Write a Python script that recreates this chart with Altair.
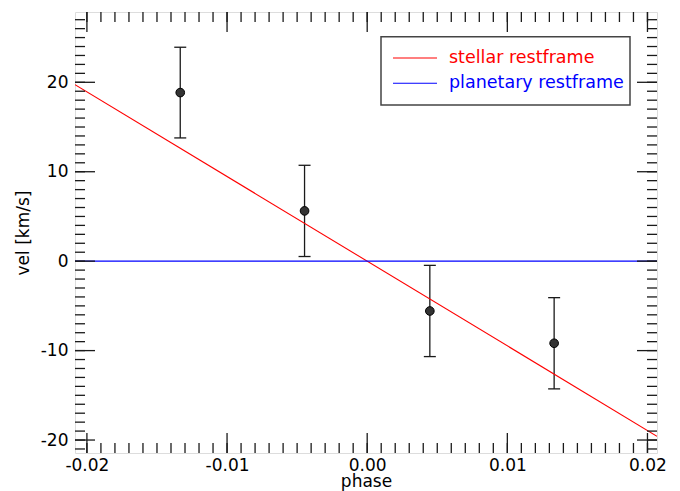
import altair as alt
import pandas as pd

# ---- data ----
phase = [-0.01334, -0.00447, 0.00447, 0.01334]
vel = [18.85, 5.62, -5.57, -9.18]
vel_err = [5.07, 5.10, 5.10, 5.10]

stellar_x = [-0.02085, 0.02068]
stellar_y = [19.74, -19.58]
planet_x = [-0.02085, 0.02068]
planet_y = [0.0, 0.0]

x_domain = [-0.02085, 0.02068]
y_domain = [-21.45, 27.86]
x_major = [-0.02, -0.01, 0.0, 0.01, 0.02]
x_minor = [round(-0.020 + 0.001 * i, 3) for i in range(41)]
y_major = [-20, -10, 0, 10, 20]
y_minor = list(range(-21, 28))
legend_labels = ["stellar restframe", "planetary restframe"]

W, H = 582, 441
FONT = "DejaVu Sans"
FS = 17
INK = "#1a1a1a"

xs = alt.Scale(domain=x_domain, nice=False, zero=False)
ys = alt.Scale(domain=y_domain, nice=False, zero=False)

pts = pd.DataFrame({"phase": phase, "vel": vel, "err": vel_err})
pts["lo"] = pts["vel"] - pts["err"]
pts["hi"] = pts["vel"] + pts["err"]

x_axis = alt.Axis(
    values=x_major, labelExpr="replace(format(datum.value, '.2f'), '\u2212', '-')",
    ticks=False, tickSize=0, domain=False, grid=False, labelPadding=4,
    labelFont=FONT, labelFontSize=FS, labelColor="black",
    title="phase", titleFont=FONT, titleFontSize=FS, titleFontWeight="normal",
    titleColor="black", titleBaseline="alphabetic", titleY=33.5, titleX=W / 2,
)
y_axis = alt.Axis(
    values=y_major, labelExpr="replace(format(datum.value, 'd'), '\u2212', '-')",
    ticks=False, tickSize=0, domain=False, grid=False, labelPadding=7,
    labelFont=FONT, labelFontSize=FS, labelColor="black",
    title="vel [km/s]", titleFont=FONT, titleFontSize=FS, titleFontWeight="normal",
    titleColor="black", titleAngle=-90, titleBaseline="middle", titleAlign="center",
    titleX=-52, titleY=H / 2,
)

# error bars
err_rule = alt.Chart(pts).mark_rule(color=INK, strokeWidth=1.3).encode(
    x=alt.X("phase:Q", scale=xs, axis=x_axis),
    y=alt.Y("lo:Q", scale=ys, axis=y_axis),
    y2="hi:Q",
)
cap_lo = alt.Chart(pts).mark_tick(color=INK, orient="horizontal", size=12, thickness=1.3, opacity=1).encode(
    x=alt.X("phase:Q", scale=xs), y=alt.Y("lo:Q", scale=ys))
cap_hi = alt.Chart(pts).mark_tick(color=INK, orient="horizontal", size=12, thickness=1.3, opacity=1).encode(
    x=alt.X("phase:Q", scale=xs), y=alt.Y("hi:Q", scale=ys))
dots = alt.Chart(pts).mark_point(filled=True, fill="#333333", stroke="black", strokeWidth=1,
                                  size=75, opacity=1, shape="circle").encode(
    x=alt.X("phase:Q", scale=xs), y=alt.Y("vel:Q", scale=ys))

stellar = alt.Chart(pd.DataFrame({"x": stellar_x, "y": stellar_y})).mark_line(
    color="red", strokeWidth=1.1, clip=True).encode(
    x=alt.X("x:Q", scale=xs), y=alt.Y("y:Q", scale=ys))
planet = alt.Chart(pd.DataFrame({"x": planet_x, "y": planet_y})).mark_line(
    color="blue", strokeWidth=1.1, clip=True).encode(
    x=alt.X("x:Q", scale=xs), y=alt.Y("y:Q", scale=ys))

# inward ticks on all four sides
xmaj = pd.DataFrame({"v": x_major})
xmin = pd.DataFrame({"v": x_minor})
ymaj = pd.DataFrame({"v": y_major})
ymin = pd.DataFrame({"v": y_minor})


def xticks(df, length):
    bot = alt.Chart(df).mark_rule(color=INK, strokeWidth=1.3).encode(
        x=alt.X("v:Q", scale=xs), y=alt.value(H), y2=alt.value(H - length))
    top = alt.Chart(df).mark_rule(color=INK, strokeWidth=1.3).encode(
        x=alt.X("v:Q", scale=xs), y=alt.value(0), y2=alt.value(length))
    return [bot, top]


def yticks(df, length):
    left = alt.Chart(df).mark_rule(color=INK, strokeWidth=1.3).encode(
        y=alt.Y("v:Q", scale=ys), x=alt.value(0), x2=alt.value(length))
    right = alt.Chart(df).mark_rule(color=INK, strokeWidth=1.3).encode(
        y=alt.Y("v:Q", scale=ys), x=alt.value(W), x2=alt.value(W - length))
    return [left, right]


tick_layers = xticks(xmin, 10) + xticks(xmaj, 20) + yticks(ymin, 10) + yticks(ymaj, 20)

# legend box
leg = pd.DataFrame({"label": legend_labels})
box = alt.Chart(pd.DataFrame({"a": [0]})).mark_rect(
    fill="white", stroke="#444444", strokeWidth=1.5).encode(
    x=alt.value(306), x2=alt.value(555), y=alt.value(24.7), y2=alt.value(93))
leg_line1 = alt.Chart(pd.DataFrame({"a": [0]})).mark_rule(color="red", strokeWidth=1.1).encode(
    x=alt.value(318), x2=alt.value(362), y=alt.value(46))
leg_line2 = alt.Chart(pd.DataFrame({"a": [0]})).mark_rule(color="blue", strokeWidth=1.1).encode(
    x=alt.value(318), x2=alt.value(362), y=alt.value(71.3))
leg_text1 = alt.Chart(leg.iloc[[0]]).mark_text(
    align="left", baseline="middle", font=FONT, fontSize=17.5, color="red").encode(
    x=alt.value(374), y=alt.value(46), text="label:N")
leg_text2 = alt.Chart(leg.iloc[[1]]).mark_text(
    align="left", baseline="middle", font=FONT, fontSize=17.5, color="blue").encode(
    x=alt.value(374), y=alt.value(71.3), text="label:N")

chart = alt.layer(
    err_rule, stellar, planet, cap_lo, cap_hi, dots, *tick_layers,
    box, leg_line1, leg_line2, leg_text1, leg_text2,
).properties(
    width=W, height=H,
    autosize=alt.AutoSizeParams(type="none"),
    padding={"left": 67, "top": 4, "right": 15, "bottom": 38},
).configure_view(
    stroke=INK, strokeWidth=2,
).configure(background="white")

chart.save("out.html", embed_options={"renderer": "svg", "actions": False})
